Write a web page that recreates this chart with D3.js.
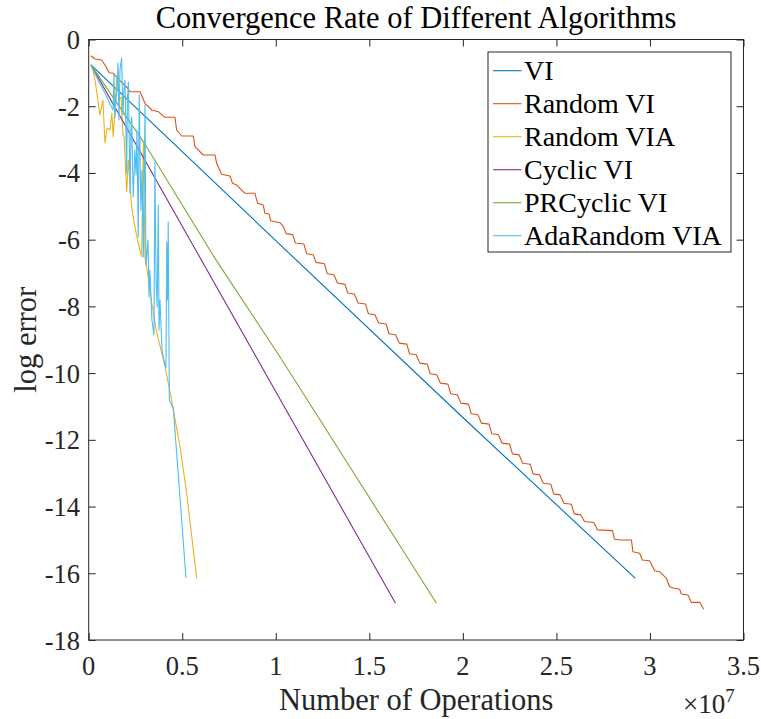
<!DOCTYPE html>
<html>
<head>
<meta charset="utf-8">
<script src="https://cdn.jsdelivr.net/npm/d3@7"></script>
<style>
    body { margin: 0; background: #ffffff; }
    svg { display: block; }
    text { font-family: "Liberation Serif", "Times New Roman", serif; fill: #262626; }
</style>
</head>
<body>
<script>

/*
    Chart data. Operations are stored in units of 1e7 (the axis
    shows the x10^7 multiplier), errors are log errors.
*/
var seriesNames = ["VI", "Random VI", "Random VIA", "Cyclic VI", "PRCyclic VI", "AdaRandom VIA"];
var seriesColors = ["#0072BD", "#D95319", "#EDB120", "#7E2F8E", "#77AC30", "#4DBEEE"];

var xTicks = [0, 0.5, 1, 1.5, 2, 2.5, 3, 3.5];
var yTicks = [0, -2, -4, -6, -8, -10, -12, -14, -16, -18];

var viData = [[0.012, -0.76], [1.0, -6.03], [2.0, -11.33], [2.922, -16.15]];

var randomViData = [
    [0.012, -0.486], [0.034, -0.585], [0.069, -0.615], [0.087, -0.764], [0.110, -0.995],
    [0.131, -1.013], [0.155, -1.163], [0.173, -1.265], [0.212, -1.484], [0.221, -1.565],
    [0.274, -1.565], [0.301, -1.912], [0.337, -2.113], [0.372, -2.164], [0.408, -2.332],
    [0.461, -2.332], [0.470, -2.713], [0.497, -2.893], [0.559, -2.893], [0.568, -3.213],
    [0.612, -3.462], [0.675, -3.462], [0.684, -3.711], [0.710, -4.041], [0.755, -4.092],
    [0.769, -4.311], [0.791, -4.362], [0.835, -4.610], [0.888, -4.610], [0.903, -4.910],
    [0.933, -4.961], [0.942, -5.210], [0.965, -5.231], [0.972, -5.432], [1.022, -5.492],
    [1.040, -5.60], [1.055, -5.82], [1.09, -5.85], [1.105, -6.10], [1.15, -6.13],
    [1.165, -6.42], [1.20, -6.45], [1.215, -6.68], [1.26, -6.72], [1.275, -7.02],
    [1.31, -7.05], [1.33, -7.30], [1.37, -7.34], [1.385, -7.60], [1.42, -7.63],
    [1.44, -7.90], [1.48, -7.93], [1.495, -8.22], [1.53, -8.25], [1.55, -8.50],
    [1.59, -8.53], [1.605, -8.82], [1.64, -8.85], [1.66, -9.10], [1.70, -9.13],
    [1.715, -9.42], [1.75, -9.45], [1.77, -9.70], [1.81, -9.73], [1.825, -10.02],
    [1.86, -10.05], [1.88, -10.30], [1.92, -10.33], [1.935, -10.62], [1.97, -10.65],
    [1.99, -10.90], [2.03, -10.93], [2.045, -11.22], [2.08, -11.25], [2.10, -11.50],
    [2.14, -11.53], [2.155, -11.82], [2.19, -11.85], [2.21, -12.10], [2.25, -12.13],
    [2.265, -12.42], [2.30, -12.45], [2.32, -12.70], [2.36, -12.73], [2.375, -13.02],
    [2.41, -13.05], [2.43, -13.30], [2.47, -13.33], [2.485, -13.62], [2.52, -13.65],
    [2.54, -13.90], [2.58, -13.93], [2.595, -14.22], [2.63, -14.25], [2.65, -14.45],
    [2.70, -14.48], [2.72, -14.70], [2.80, -14.72], [2.81, -14.98], [2.844, -15.002],
    [2.901, -15.002], [2.909, -15.353], [2.945, -15.401], [2.959, -15.602], [2.998, -15.623],
    [3.025, -15.923], [3.052, -15.953], [3.088, -16.151], [3.105, -16.403], [3.132, -16.451],
    [3.159, -16.481], [3.168, -16.622], [3.203, -16.652], [3.221, -16.871], [3.266, -16.871],
    [3.287, -17.080]
];

var randomViaData = [
    [0.016, -0.764], [0.034, -1.214], [0.060, -2.263], [0.076, -1.814], [0.087, -3.103],
    [0.098, -2.653], [0.114, -2.713], [0.124, -2.203], [0.131, -2.923], [0.151, -1.124],
    [0.162, -1.814], [0.173, -1.724], [0.183, -2.863], [0.189, -2.893], [0.203, -4.562],
    [0.212, -3.612], [0.230, -5.051], [0.247, -5.611], [0.265, -6.109], [0.283, -6.511],
    [0.292, -3.111], [0.301, -6.550], [0.318, -7.111], [0.337, -7.908], [0.363, -8.759],
    [0.408, -9.808], [0.443, -10.806], [0.488, -12.206], [0.524, -13.603], [0.577, -16.151]
];

var cyclicViData = [[0.012, -0.76], [0.942, -9.98], [1.640, -16.90]];

var prCyclicViData = [
    [0.012, -0.76], [0.292, -3.06], [0.675, -6.56], [1.022, -9.51], [1.797, -16.35], [1.859, -16.90]
];

var adaRandomViaData = [
    [0.012, -0.764], [0.050, -1.214], [0.087, -1.604], [0.114, -1.933], [0.130, -2.113],
    [0.135, -1.064], [0.140, -2.353], [0.151, -1.364], [0.157, -0.704], [0.162, -2.413],
    [0.167, -0.914], [0.176, -0.555], [0.183, -2.263], [0.188, -1.514], [0.194, -1.214],
    [0.203, -4.002], [0.207, -1.814], [0.212, -1.274], [0.221, -4.601], [0.226, -2.713],
    [0.230, -2.323], [0.238, -4.721], [0.247, -3.312], [0.253, -4.062], [0.258, -2.713],
    [0.265, -5.920], [0.270, -1.664], [0.279, -5.111], [0.285, -3.912], [0.292, -6.520],
    [0.301, -1.963], [0.306, -6.759], [0.317, -6.010], [0.322, -7.719], [0.327, -6.909],
    [0.338, -8.408], [0.349, -8.858], [0.354, -3.672], [0.360, -7.209], [0.366, -8.018],
    [0.372, -4.961], [0.376, -8.708], [0.381, -7.809], [0.392, -9.307], [0.402, -9.607],
    [0.413, -9.847], [0.417, -6.070], [0.421, -7.809], [0.425, -5.471], [0.431, -10.806],
    [0.452, -11.046], [0.477, -12.905], [0.520, -16.142]
];

var allSeries = [viData, randomViData, randomViaData, cyclicViData, prCyclicViData, adaRandomViaData];

var w = 761;
var h = 719;
var axLeft = 88.7, axRight = 743.5, axTop = 39.5, axBottom = 640;

var xScale = d3.scaleLinear()
    .domain([0, 3.5])
    .range([axLeft, axRight]);

var yScale = d3.scaleLinear()
    .domain([-18, 0])
    .range([axBottom, axTop]);

var svg = d3.select("body")
    .append("svg")
    .attr("width", w)
    .attr("height", h);

/*
    Lines are drawn first, MATLAB style: later series sit on top.
*/
var line = d3.line()
    .x(function(d){ return xScale(d[0]); })
    .y(function(d){ return yScale(d[1]); });

var plot = svg.append("g");

plot.selectAll("path")
    .data(allSeries)
    .enter()
    .append("path")
    .attr("d", line)
    .attr("fill", "none")
    .attr("stroke", function(d, i){ return seriesColors[i]; })
    .attr("stroke-width", 1.1)
    .attr("stroke-linejoin", "round");

/*
    Axes with inward ticks on all four sides (box on).
*/
var tickLen = 7;

svg.append("g")
    .attr("transform", "translate(0," + axBottom + ")")
    .call(d3.axisBottom(xScale).tickValues(xTicks).tickSize(-tickLen).tickFormat(""))
    .call(function(g){ g.select(".domain").remove(); });

svg.append("g")
    .attr("transform", "translate(0," + axTop + ")")
    .call(d3.axisTop(xScale).tickValues(xTicks).tickSize(-tickLen).tickFormat(""))
    .call(function(g){ g.select(".domain").remove(); });

svg.append("g")
    .attr("transform", "translate(" + axLeft + ",0)")
    .call(d3.axisLeft(yScale).tickValues(yTicks).tickSize(-tickLen).tickFormat(""))
    .call(function(g){ g.select(".domain").remove(); });

svg.append("g")
    .attr("transform", "translate(" + axRight + ",0)")
    .call(d3.axisRight(yScale).tickValues(yTicks).tickSize(-tickLen).tickFormat(""))
    .call(function(g){ g.select(".domain").remove(); });

svg.selectAll(".tick line").attr("stroke", "#262626");

svg.append("rect")
    .attr("x", axLeft)
    .attr("y", axTop)
    .attr("width", axRight - axLeft)
    .attr("height", axBottom - axTop)
    .attr("fill", "none")
    .attr("stroke", "#262626")
    .attr("stroke-width", 1);

// tick labels
svg.selectAll(".xlab")
    .data(xTicks)
    .enter()
    .append("text")
    .attr("class", "xlab")
    .attr("x", function(d){ return xScale(d); })
    .attr("y", 675)
    .attr("text-anchor", "middle")
    .style("font-size", "26.5px")
    .text(function(d){ return d; });

svg.selectAll(".ylab")
    .data(yTicks)
    .enter()
    .append("text")
    .attr("class", "ylab")
    .attr("x", 80)
    .attr("y", function(d){ return yScale(d) + 9.5; })
    .attr("text-anchor", "end")
    .style("font-size", "26.5px")
    .text(function(d){ return d; });

// exponent label
var expo = svg.append("text")
    .attr("x", 683)
    .attr("y", 713)
    .style("font-size", "27px");
expo.append("tspan").text("\u00D710");
expo.append("tspan")
    .attr("dy", -11)
    .style("font-size", "19px")
    .text("7");

// titles
svg.append("text")
    .attr("x", (axLeft + axRight) / 2)
    .attr("y", 28)
    .attr("text-anchor", "middle")
    .style("font-size", "30.5px")
    .style("fill", "#000")
    .text("Convergence Rate of Different Algorithms");

svg.append("text")
    .attr("x", (axLeft + axRight) / 2)
    .attr("y", 710)
    .attr("text-anchor", "middle")
    .style("font-size", "30.5px")
    .text("Number of Operations");

svg.append("text")
    .attr("transform", "translate(36," + ((axTop + axBottom) / 2) + ") rotate(-90)")
    .attr("text-anchor", "middle")
    .style("font-size", "30.5px")
    .text("log error");

/*
    Legend box in the upper right corner.
*/
var legend = svg.append("g");

legend.append("rect")
    .attr("x", 488)
    .attr("y", 52)
    .attr("width", 243)
    .attr("height", 200)
    .attr("fill", "#ffffff")
    .attr("stroke", "#262626")
    .attr("stroke-width", 1);

var entries = legend.selectAll(".entry")
    .data(seriesNames)
    .enter()
    .append("g")
    .attr("class", "entry")
    .attr("transform", function(d, i){ return "translate(0," + (70.7 + i * 33) + ")"; });

entries.append("line")
    .attr("x1", 493)
    .attr("x2", 521.5)
    .attr("stroke", function(d, i){ return seriesColors[i]; })
    .attr("stroke-width", 1.1);

entries.append("text")
    .attr("x", 524)
    .attr("y", 9.5)
    .style("font-size", "28px")
    .style("fill", "#000")
    .text(function(d){ return d; });

</script>
</body>
</html>
